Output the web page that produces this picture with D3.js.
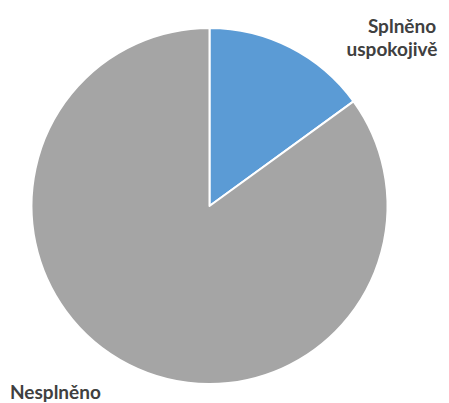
<!DOCTYPE html>
<html><head><meta charset="utf-8">
<script src="https://cdn.jsdelivr.net/npm/d3@7"></script>
<style>body{margin:0;background:#fff}</style>
</head><body><svg id="c" width="449" height="403"></svg>
<script>
const categories = ["Splněno uspokojivě", "Nesplněno"];
const values = [15, 85];
const colors = ["#5B9BD5", "#A5A5A5"];

const svg = d3.select("#c");
const cx = 209.5, cy = 206, r = 178;
const pie = d3.pie().sort(null)(values);
const arc = d3.arc().innerRadius(0).outerRadius(r);
const g = svg.append("g").attr("transform", `translate(${cx},${cy})`);
g.selectAll("path").data(pie).enter().append("path")
  .attr("d", arc).attr("fill", (d, i) => colors[i])
  .attr("stroke", "#fff").attr("stroke-width", 2).attr("stroke-linejoin", "round");

const font = "Lato, 'Open Sans', sans-serif";
const lab = svg.append("g").attr("font-family", font).attr("font-weight", "bold")
  .attr("font-size", 19).attr("fill", "#404040");
lab.append("text").attr("x", 402).attr("y", 33).attr("text-anchor", "middle").text("Splněno");
lab.append("text").attr("x", 392).attr("y", 56).attr("text-anchor", "middle").text("uspokojivě");
lab.append("text").attr("x", 10).attr("y", 399).text("Nesplněno");
</script></body></html>
